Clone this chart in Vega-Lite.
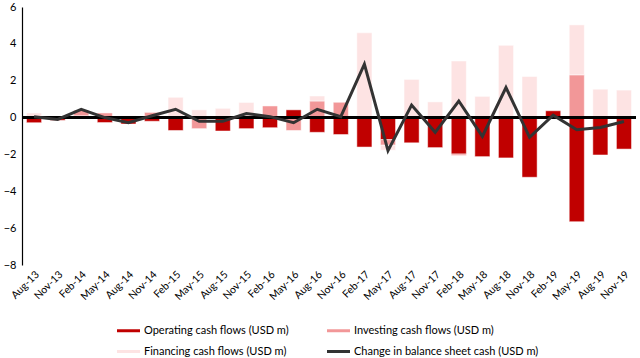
{
  "$schema": "https://vega.github.io/schema/vega-lite/v6.json",
  "autosize": "none",
  "width": 614,
  "height": 258,
  "padding": {"left": 22, "top": 7, "right": 4, "bottom": 93},
  "config": {"view": {"stroke": null}, "font": "Lato",
    "axisY": {"title": null, "grid": false, "domain": true, "ticks": false, "tickSize": 0, "domainColor": "#000000", "domainWidth": 1.2, "labelFontSize": 11, "labelColor": "#000000", "labelPadding": 6, "labelOverlap": false, "labelBound": false, "labelFlush": false}
  },
  "datasets": {
    "cf": [
      {"q":"Aug-13","s":"Operating cash flows (USD m)","v":-0.28},
      {"q":"Aug-13","s":"Financing cash flows (USD m)","v":0.25},
      {"q":"Aug-13","s":"Change in balance sheet cash (USD m)","v":0.05},
      {"q":"Nov-13","s":"Operating cash flows (USD m)","v":-0.15},
      {"q":"Nov-13","s":"Investing cash flows (USD m)","v":0.05},
      {"q":"Nov-13","s":"Change in balance sheet cash (USD m)","v":-0.1},
      {"q":"Feb-14","s":"Operating cash flows (USD m)","v":0.1},
      {"q":"Feb-14","s":"Investing cash flows (USD m)","v":0.3},
      {"q":"Feb-14","s":"Change in balance sheet cash (USD m)","v":0.45},
      {"q":"May-14","s":"Operating cash flows (USD m)","v":-0.27},
      {"q":"May-14","s":"Investing cash flows (USD m)","v":0.25},
      {"q":"May-14","s":"Change in balance sheet cash (USD m)","v":0.0},
      {"q":"Aug-14","s":"Operating cash flows (USD m)","v":-0.35},
      {"q":"Aug-14","s":"Financing cash flows (USD m)","v":0.1},
      {"q":"Aug-14","s":"Change in balance sheet cash (USD m)","v":-0.28},
      {"q":"Nov-14","s":"Operating cash flows (USD m)","v":-0.2},
      {"q":"Nov-14","s":"Investing cash flows (USD m)","v":0.28},
      {"q":"Nov-14","s":"Change in balance sheet cash (USD m)","v":0.1},
      {"q":"Feb-15","s":"Operating cash flows (USD m)","v":-0.7},
      {"q":"Feb-15","s":"Financing cash flows (USD m)","v":1.1},
      {"q":"Feb-15","s":"Change in balance sheet cash (USD m)","v":0.45},
      {"q":"May-15","s":"Investing cash flows (USD m)","v":-0.6},
      {"q":"May-15","s":"Financing cash flows (USD m)","v":0.42},
      {"q":"May-15","s":"Change in balance sheet cash (USD m)","v":-0.2},
      {"q":"Aug-15","s":"Operating cash flows (USD m)","v":-0.73},
      {"q":"Aug-15","s":"Financing cash flows (USD m)","v":0.5},
      {"q":"Aug-15","s":"Change in balance sheet cash (USD m)","v":-0.2},
      {"q":"Nov-15","s":"Operating cash flows (USD m)","v":-0.6},
      {"q":"Nov-15","s":"Financing cash flows (USD m)","v":0.82},
      {"q":"Nov-15","s":"Change in balance sheet cash (USD m)","v":0.22},
      {"q":"Feb-16","s":"Operating cash flows (USD m)","v":-0.55},
      {"q":"Feb-16","s":"Investing cash flows (USD m)","v":0.63},
      {"q":"Feb-16","s":"Change in balance sheet cash (USD m)","v":0.05},
      {"q":"May-16","s":"Operating cash flows (USD m)","v":0.42},
      {"q":"May-16","s":"Investing cash flows (USD m)","v":-0.7},
      {"q":"May-16","s":"Change in balance sheet cash (USD m)","v":-0.28},
      {"q":"Aug-16","s":"Operating cash flows (USD m)","v":-0.8},
      {"q":"Aug-16","s":"Investing cash flows (USD m)","v":0.9},
      {"q":"Aug-16","s":"Financing cash flows (USD m)","v":0.27},
      {"q":"Aug-16","s":"Change in balance sheet cash (USD m)","v":0.45},
      {"q":"Nov-16","s":"Operating cash flows (USD m)","v":-0.92},
      {"q":"Nov-16","s":"Investing cash flows (USD m)","v":0.83},
      {"q":"Nov-16","s":"Change in balance sheet cash (USD m)","v":0.05},
      {"q":"Feb-17","s":"Operating cash flows (USD m)","v":-1.6},
      {"q":"Feb-17","s":"Financing cash flows (USD m)","v":4.6},
      {"q":"Feb-17","s":"Change in balance sheet cash (USD m)","v":2.9},
      {"q":"May-17","s":"Operating cash flows (USD m)","v":-1.2},
      {"q":"May-17","s":"Investing cash flows (USD m)","v":-0.3},
      {"q":"May-17","s":"Financing cash flows (USD m)","v":-0.27},
      {"q":"May-17","s":"Change in balance sheet cash (USD m)","v":-1.8},
      {"q":"Aug-17","s":"Operating cash flows (USD m)","v":-1.37},
      {"q":"Aug-17","s":"Financing cash flows (USD m)","v":2.07},
      {"q":"Aug-17","s":"Change in balance sheet cash (USD m)","v":0.68},
      {"q":"Nov-17","s":"Operating cash flows (USD m)","v":-1.63},
      {"q":"Nov-17","s":"Financing cash flows (USD m)","v":0.85},
      {"q":"Nov-17","s":"Change in balance sheet cash (USD m)","v":-0.8},
      {"q":"Feb-18","s":"Operating cash flows (USD m)","v":-1.98},
      {"q":"Feb-18","s":"Investing cash flows (USD m)","v":-0.08},
      {"q":"Feb-18","s":"Financing cash flows (USD m)","v":3.07},
      {"q":"Feb-18","s":"Change in balance sheet cash (USD m)","v":0.9},
      {"q":"May-18","s":"Operating cash flows (USD m)","v":-2.12},
      {"q":"May-18","s":"Investing cash flows (USD m)","v":0.05},
      {"q":"May-18","s":"Financing cash flows (USD m)","v":1.1},
      {"q":"May-18","s":"Change in balance sheet cash (USD m)","v":-1.02},
      {"q":"Aug-18","s":"Operating cash flows (USD m)","v":-2.19},
      {"q":"Aug-18","s":"Financing cash flows (USD m)","v":3.92},
      {"q":"Aug-18","s":"Change in balance sheet cash (USD m)","v":1.63},
      {"q":"Nov-18","s":"Operating cash flows (USD m)","v":-3.24},
      {"q":"Nov-18","s":"Financing cash flows (USD m)","v":2.23},
      {"q":"Nov-18","s":"Change in balance sheet cash (USD m)","v":-1.07},
      {"q":"Feb-19","s":"Operating cash flows (USD m)","v":0.37},
      {"q":"Feb-19","s":"Change in balance sheet cash (USD m)","v":0.13},
      {"q":"May-19","s":"Operating cash flows (USD m)","v":-5.65},
      {"q":"May-19","s":"Investing cash flows (USD m)","v":2.32},
      {"q":"May-19","s":"Financing cash flows (USD m)","v":2.71},
      {"q":"May-19","s":"Change in balance sheet cash (USD m)","v":-0.66},
      {"q":"Aug-19","s":"Operating cash flows (USD m)","v":-2.03},
      {"q":"Aug-19","s":"Financing cash flows (USD m)","v":1.54},
      {"q":"Aug-19","s":"Change in balance sheet cash (USD m)","v":-0.54},
      {"q":"Nov-19","s":"Operating cash flows (USD m)","v":-1.71},
      {"q":"Nov-19","s":"Investing cash flows (USD m)","v":0.04},
      {"q":"Nov-19","s":"Financing cash flows (USD m)","v":1.45},
      {"q":"Nov-19","s":"Change in balance sheet cash (USD m)","v":-0.21}
    ]
  },
  "data": {"name": "cf"},
  "layer": [
    {
      "transform": [
        {"filter": "datum.s != 'Change in balance sheet cash (USD m)'"},
        {"calculate": "indexof(['Operating cash flows (USD m)','Investing cash flows (USD m)','Financing cash flows (USD m)'], datum.s)", "as": "ord"}
      ],
      "mark": {"type": "bar", "stroke": "white", "strokeWidth": 0.5},
      "encoding": {
        "x": {
          "field": "q", "type": "ordinal", "sort": null,
          "scale": {"paddingInner": 0.36, "paddingOuter": 0.19},
          "axis": {"title": null, "domain": false, "ticks": false, "labelAngle": -45, "labelFontSize": 10.5, "labelColor": "#000000", "labelPadding": 4}
        },
        "y": {
          "field": "v", "type": "quantitative", "stack": "zero",
          "scale": {"domain": [-8, 6], "nice": false, "zero": false},
          "axis": {"values": [-8, -6, -4, -2, 0, 2, 4, 6]}
        },
        "color": {
          "field": "s", "type": "nominal",
          "scale": {
            "domain": ["Operating cash flows (USD m)", "Financing cash flows (USD m)", "Investing cash flows (USD m)", "Change in balance sheet cash (USD m)"],
            "range": ["#C00000", "#FDE3E3", "#F29798", "#333333"]
          },
          "legend": {
            "orient": "none", "legendX": 95, "legendY": 312, "columns": 2, "title": null,
            "symbolType": "M-1,-0.13H1V0.13H-1Z", "symbolSize": 529, "symbolStrokeWidth": 0,
            "labelFontSize": 11, "labelColor": "#000000", "labelOffset": 4, "labelLimit": 300,
            "columnPadding": 38, "rowPadding": 4,
            "encode": {"symbols": {"update": {"shape": {"signal": "datum.value == 'Change in balance sheet cash (USD m)' ? 'M-1,-0.08H1V0.08H-1Z' : 'M-1,-0.13H1V0.13H-1Z'"}}}}
          }
        },
        "order": {"field": "ord", "type": "quantitative"}
      }
    },
    {
      "mark": {"type": "rule", "color": "#000000", "strokeWidth": 1.5},
      "encoding": {"y": {"datum": 0, "axis": {"values": [-8, -6, -4, -2, 0, 2, 4, 6]}}}
    },
    {
      "transform": [{"filter": "datum.s == 'Change in balance sheet cash (USD m)'"}],
      "mark": {"type": "line", "color": "#333333", "strokeWidth": 3},
      "encoding": {
        "x": {"field": "q", "type": "ordinal", "sort": null},
        "y": {"field": "v", "type": "quantitative", "axis": {"values": [-8, -6, -4, -2, 0, 2, 4, 6]}}
      }
    }
  ]
}
